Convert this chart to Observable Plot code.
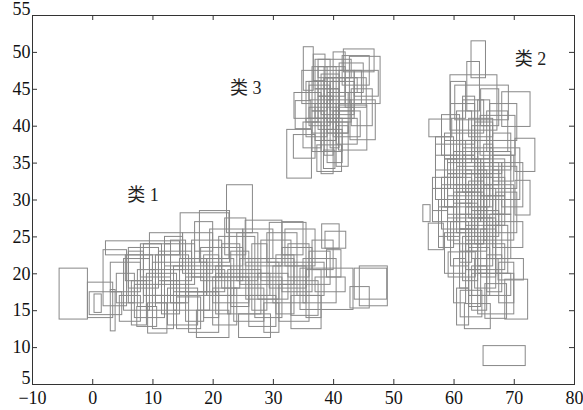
<!DOCTYPE html>
<html><head><meta charset="utf-8">
<script src="https://cdn.jsdelivr.net/npm/d3@7"></script>
<script src="https://cdn.jsdelivr.net/npm/@observablehq/plot@0.6"></script>
<style>body{margin:0;background:#fff}</style>
</head><body><div id="chart"></div>
<script>
const xTicks = [-10, 0, 10, 20, 30, 40, 50, 60, 70, 80];
const yTicks = [5, 10, 15, 20, 25, 30, 35, 40, 45, 50, 55];
const yTicksEnd = [5, 55];
const yTicksMid = [10, 15, 20, 25, 30, 35, 40, 45, 50];
const labelText = ["类 1", "类 2", "类 3"];
const labelX = [8.35, 72.7, 25.4];
const labelY = [30.6, 49.1, 45.1];

// [x1, x2, y1, y2]
const class1 = [
[-5.5,-0.8,13.8,20.7],[-0.8,3.4,14.0,18.8],[0.3,1.5,14.7,17.2],[-0.5,4.9,14.4,17.5],
[3.0,3.8,12.2,17.8],[1.8,5.7,15.6,23.2],[2.2,14.5,22.5,24.4],[22.3,26.6,25.5,32.0],
[5.2,9.5,15.0,22.0],[4.5,8.0,13.5,17.0],[7.4,10.7,12.8,15.5],[9.2,12.4,11.9,16.0],
[17.3,22.7,11.3,15.0],[24.3,29.6,11.3,14.5],[14.0,18.0,12.5,16.8],[20.0,24.0,13.0,18.0],
[26.0,30.5,12.8,17.0],[31.0,36.0,13.5,18.5],[33.0,37.5,14.3,19.0],[10.5,16.0,16.0,22.5],
[12.0,17.0,18.5,24.0],[15.0,20.0,20.0,25.5],[19.0,23.5,17.0,22.0],[21.0,27.0,19.5,25.0],
[25.5,31.0,16.5,21.5],[28.0,33.0,19.0,24.5],[30.0,35.5,16.0,21.0],[14.6,22.7,22.0,28.2],
[17.8,22.8,21.5,28.5],[25.4,31.5,21.0,27.2],[29.4,35.5,18.0,26.9],[32.0,37.0,21.0,26.0],
[35.0,40.5,16.0,22.0],[36.0,39.5,18.5,23.0],[38.1,41.0,23.4,26.7],[38.65,42.1,23.4,25.7],
[38.9,41.3,19.5,23.2],[44.35,49.0,15.6,21.0],[43.5,48.9,16.5,20.7],[42.8,46.0,15.3,18.2],
[34.5,43.3,15.1,20.7],[6.0,11.0,18.0,23.5],[8.0,13.0,19.5,24.0],[7.5,10.5,15.5,20.5],
[11.5,14.5,14.5,19.0],[13.5,19.5,15.0,21.0],[16.0,21.0,12.0,17.5],[22.5,28.0,14.5,20.5],
[18.0,25.0,19.0,23.5],[23.0,26.0,15.5,23.0],[9.5,15.0,20.5,25.5],[6.5,9.0,13.0,19.0],
[27.0,31.5,14.0,19.5],[31.5,36.5,17.5,23.5],[3.0,8.0,17.5,21.5],[12.5,17.5,13.0,18.0],
[20.5,23.0,14.5,21.0],[33.0,38.0,12.5,17.0],[10.0,19.0,17.0,21.5],[24.5,33.5,18.5,22.0],
[5.5,10.0,19.0,22.5],[7.0,12.0,14.0,18.5],[8.5,11.5,17.0,24.0],[10.0,13.5,12.5,17.0],
[11.0,16.5,19.0,23.0],[13.0,15.5,16.0,24.5],[14.5,19.0,17.5,22.0],[15.5,18.5,13.5,19.5],
[16.5,21.5,19.5,24.5],[18.5,21.0,14.0,22.5],[19.5,25.0,21.0,26.0],[20.0,26.0,16.0,19.5],
[21.5,24.5,18.0,24.0],[23.5,28.5,13.5,18.0],[24.0,27.5,19.0,25.5],[25.0,30.0,22.0,26.0],
[26.5,29.0,15.0,24.0],[27.5,32.5,16.5,20.0],[29.0,34.0,21.5,25.5],[30.5,33.5,14.5,22.5],
[32.5,36.0,19.5,24.0],[34.0,38.5,17.0,21.5],[35.5,38.0,14.0,20.5],[36.5,40.0,20.5,24.5],
[37.0,42.0,17.5,19.5],[12.0,15.0,21.0,25.0],[9.0,14.0,15.0,20.0],[17.0,20.0,23.0,27.0],
[22.0,25.5,22.5,27.5],[28.5,31.0,12.0,16.0],[31.5,35.0,22.5,27.0],[6.0,8.5,16.0,23.0],
[13.5,22.0,17.5,20.5],[20.5,29.5,17.0,20.0],[4.0,7.0,16.0,20.0]
];
const class2 = [
[62.9,65.3,46.5,51.5],[62.2,64.3,42.0,48.7],[59.4,67.2,39.4,46.9],[60.2,69.1,40.8,45.5],
[68.0,72.7,39.9,44.6],[55.9,59.7,38.5,40.9],[64.4,70.2,36.0,41.4],[70.2,73.5,33.8,38.3],
[61.8,66.1,12.5,15.9],[65.2,68.8,13.9,18.6],[68.5,72.3,13.8,19.2],[61.1,64.7,14.1,17.7],
[54.9,56.1,27.0,29.3],[55.8,58.3,23.2,26.8],[59.1,63.6,19.5,22.9],[67.4,71.6,19.1,22.0],
[70.2,72.7,27.9,32.6],[64.9,71.9,7.5,10.2],
[57.0,62.0,30.0,36.0],[58.0,63.0,26.0,33.0],[59.0,64.5,28.0,35.5],[60.0,65.0,24.0,31.0],
[61.0,66.0,30.5,38.0],[62.0,67.5,26.5,34.0],[63.0,68.0,22.0,30.0],[64.0,69.5,28.0,36.5],
[65.0,70.0,24.5,32.0],[66.0,71.0,30.0,37.0],[58.5,61.5,33.0,39.0],[60.5,63.0,35.0,42.0],
[63.5,66.5,33.0,40.5],[66.5,69.5,34.0,39.0],[56.5,60.5,27.0,31.5],[57.5,60.0,23.5,29.0],
[59.5,62.5,21.0,27.0],[61.5,64.0,19.0,25.0],[62.5,66.0,17.0,23.5],[64.5,67.0,19.5,26.0],
[66.0,69.5,22.0,28.0],[60.0,62.0,16.0,22.0],[63.0,65.5,15.0,21.0],[62.0,68.5,20.5,24.0],
[58.0,66.0,29.0,32.0],[60.5,70.5,31.5,34.5],[61.0,64.0,26.0,29.5],[63.5,65.0,24.0,35.0],
[64.5,66.5,27.0,33.0],[59.0,61.0,24.5,30.5],[67.0,70.5,25.5,31.0],[68.0,71.5,29.0,35.0],
[57.0,59.5,31.5,37.5],[61.5,63.5,36.0,44.0],[64.0,66.0,38.0,43.5],[65.5,68.0,17.5,22.5],
[60.5,62.5,13.0,18.0],[62.0,64.5,30.0,33.5],[58.5,64.0,35.5,38.0],[63.0,67.0,28.5,31.5],
[66.5,68.5,28.0,33.0],[59.0,60.5,27.5,33.5],[62.5,66.5,38.5,41.0],[65.0,67.5,32.0,35.0],
[61.0,65.5,23.0,26.0],[64.0,70.0,14.5,20.0],
[58.0,61.0,36.0,41.5],[59.5,63.5,37.5,43.0],[60.0,64.0,32.0,36.5],[61.5,66.5,33.5,37.0],
[62.5,65.0,27.5,32.5],[63.0,66.0,35.5,40.0],[64.5,68.5,30.5,35.5],[65.5,69.0,36.5,42.0],
[57.5,61.0,25.0,30.0],[58.5,62.0,20.0,25.5],[60.5,64.5,27.0,31.0],[61.0,63.0,21.5,28.0],
[62.0,65.5,24.5,29.0],[63.5,67.5,25.0,28.5],[64.0,66.5,21.0,27.5],[65.5,68.5,26.5,30.5],
[66.5,70.0,32.5,36.0],[67.0,69.0,20.0,26.5],[62.5,64.5,15.5,20.5],[63.5,67.0,18.0,22.0],
[60.0,63.0,29.5,34.0],[58.5,60.5,29.0,35.5],[61.5,65.0,39.0,43.5],[64.5,67.5,40.0,45.0],
[59.5,62.0,41.0,46.0],[66.0,70.5,38.0,43.0],[62.0,64.0,23.0,38.0],[64.0,65.5,20.0,34.0],
[60.5,67.0,25.5,27.5],[59.0,68.0,33.5,35.0],[61.5,63.5,31.0,36.0],[65.0,66.5,29.0,37.5],
[57.0,60.0,34.0,38.5],[56.5,59.0,28.5,33.0],[66.5,71.5,23.5,27.0],[63.0,69.5,17.0,20.0],
[61.0,62.5,18.0,26.0],[67.5,70.0,16.0,21.5]
];
const class3 = [
[35.05,36.7,44.8,50.7],[36.7,38.65,46.1,49.7],[41.7,46.8,47.3,50.4],[42.7,47.8,43.0,49.4],
[32.3,36.4,32.9,39.5],[33.4,37.0,35.6,38.8],[33.7,36.3,39.6,43.4],[37.3,41.4,33.8,37.4],
[38.4,40.3,34.2,36.7],[40.9,45.6,36.7,42.8],[42.8,47.0,38.1,43.5],[34.8,44.7,43.0,47.5],
[36.0,39.5,40.0,45.5],[37.0,40.5,38.0,43.0],[38.0,41.0,41.5,47.0],[39.0,42.5,39.0,44.5],
[36.5,38.5,36.5,42.0],[39.5,43.5,42.0,46.0],[40.5,44.0,37.5,41.0],[37.5,42.0,44.0,48.0],
[35.5,39.0,38.5,41.0],[38.5,40.0,36.0,46.5],[41.0,45.0,44.5,48.5],[36.0,43.5,41.0,42.5],
[37.0,39.5,45.0,49.0],[39.0,41.5,35.0,39.5],[33.5,38.0,41.0,44.5],[43.0,46.5,40.0,45.0],
[40.0,42.0,46.0,50.0],[38.0,40.0,33.5,38.0],
[36.5,39.0,42.0,48.0],[37.5,40.0,39.5,44.0],[38.0,41.5,36.5,41.0],[38.5,42.0,43.0,46.5],
[39.0,43.0,40.5,43.5],[39.5,41.0,37.0,45.0],[40.0,44.5,38.5,42.0],[41.0,43.5,41.5,47.5],
[41.5,46.0,45.5,49.5],[35.0,38.0,37.0,40.5],[36.0,40.0,43.5,46.0],[37.0,41.0,41.0,45.0],
[38.5,40.5,38.0,48.0],[42.0,45.5,42.5,46.5],[35.5,37.5,40.5,46.0],[39.0,44.0,44.5,46.5],
[36.5,42.5,39.0,40.5],[40.5,42.5,34.5,40.0],[43.5,47.5,44.0,47.5],[37.5,43.0,46.5,49.0]
];

const rects = [...class1, ...class2, ...class3].map(([x1, x2, y1, y2]) => ({x1, x2, y1, y2}));
const labels = labelText.map((t, i) => ({t, x: labelX[i], y: labelY[i]}));

const W = 583, H = 410, mL = 32, mR = 9, mT = 15, mB = 26;
const pw = W - mL - mR, ph = H - mT - mB, tk = 5;
const serif = '"Liberation Serif", "Times New Roman", Times, "Noto Sans CJK SC", serif';

const chart = Plot.plot({
  width: W, height: H,
  marginLeft: mL, marginRight: mR, marginTop: mT, marginBottom: mB,
  x: {domain: [-10, 80]},
  y: {domain: [5, 55]},
  style: {fontFamily: serif, fontSize: "18px", color: "#111", background: "#fff"},
  marks: [
    Plot.rect(rects, {x1: "x1", x2: "x2", y1: "y1", y2: "y2", fill: "none", stroke: "#888", strokeWidth: 1}),
    Plot.text(labels, {x: "x", y: "y", text: "t", fontSize: 18, fontFamily: serif, fill: "#222"}),
    Plot.frame({stroke: "#333", strokeWidth: 1}),
    Plot.tickX(xTicks, {x: d => d, insetTop: ph - tk, stroke: "#333"}),
    Plot.tickX(xTicks, {x: d => d, insetBottom: ph - tk, stroke: "#333"}),
    Plot.tickY(yTicks, {y: d => d, insetRight: pw - tk, stroke: "#333"}),
    Plot.tickY(yTicks, {y: d => d, insetLeft: pw - tk, stroke: "#333"}),
    Plot.axisX({ticks: xTicks, tickSize: 0, tickPadding: 7, label: null, fontFamily: serif}),
    Plot.axisY({ticks: yTicksMid, tickSize: 0, tickPadding: 2, label: null, fontFamily: serif}),
    Plot.axisY({ticks: yTicksEnd, tickSize: 0, tickPadding: 2, label: null, fontFamily: serif, dy: -6})
  ]
});
document.getElementById("chart").appendChild(chart);
</script></body></html>
